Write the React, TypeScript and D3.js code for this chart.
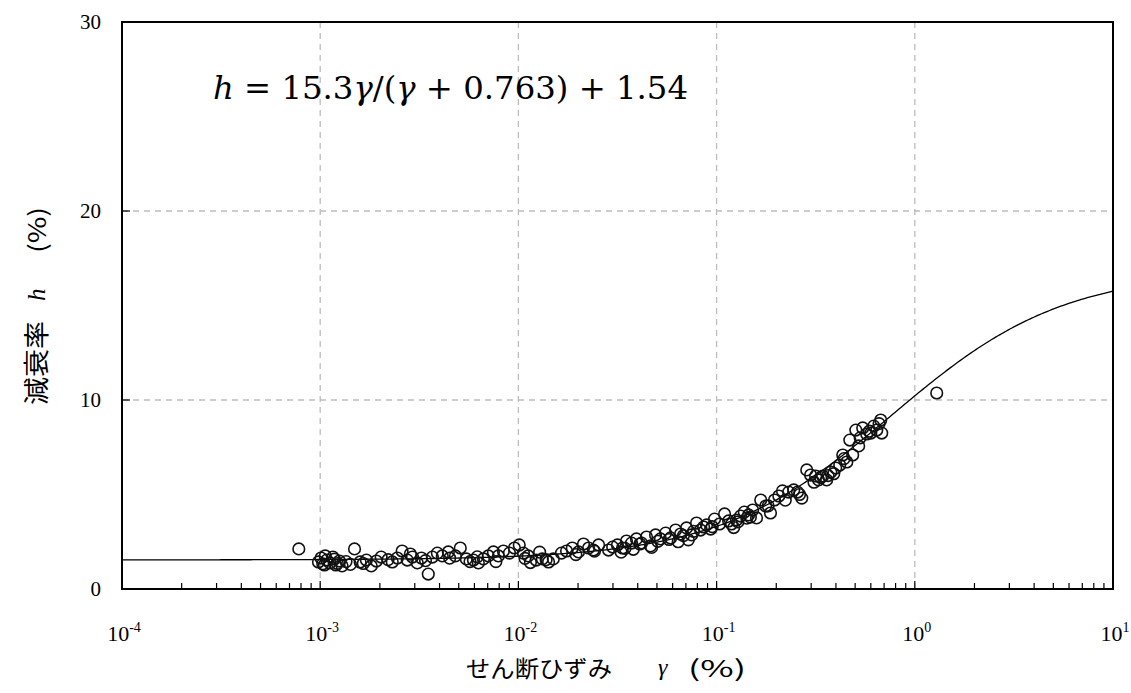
import React from "react";
import * as d3 from "d3";

// shear strain gamma (%) and damping ratio h (%)
const gammaVals: number[] = [
  0.00078, 0.00098, 0.00101, 0.00105, 0.00108, 0.00112, 0.00116, 0.0012, 0.00125, 0.00129,
  0.00149, 0.00159, 0.00171, 0.00181, 0.00192, 0.00203, 0.00231, 0.00245, 0.00259, 0.00275,
  0.00292, 0.00309, 0.00324, 0.00351, 0.00368, 0.0039, 0.00413, 0.00443, 0.00481, 0.00509,
  0.00546, 0.00593, 0.00628, 0.00666, 0.00705, 0.00748, 0.00792, 0.0084, 0.00901, 0.00955,
  0.0101, 0.0106, 0.0112, 0.0123, 0.0132, 0.0142, 0.015, 0.0165, 0.0175, 0.0187,
  0.0201, 0.0213, 0.0226, 0.0239, 0.0254, 0.0285, 0.0299, 0.0316, 0.0335, 0.0351,
  0.0372, 0.0394, 0.0418, 0.0443, 0.0464, 0.0492, 0.0521, 0.0553, 0.0586, 0.0621,
  0.0658, 0.0705, 0.0748, 0.0792, 0.083, 0.089, 0.0933, 0.0977, 0.1035, 0.1097,
  0.119, 0.126, 0.132, 0.138, 0.145, 0.152, 0.159, 0.167, 0.177, 0.187,
  0.196, 0.206, 0.215, 0.231, 0.245, 0.256, 0.269, 0.285, 0.298, 0.316,
  0.327, 0.343, 0.359, 0.377, 0.399, 0.418, 0.433, 0.454, 0.47, 0.486,
  0.504, 0.521, 0.546, 0.572, 0.6, 0.621, 0.643, 0.673, 0.681, 1.29,
  0.00103, 0.00118, 0.00135, 0.00285, 0.0045, 0.0062, 0.0108, 0.0138, 0.0195, 0.0242,
  0.0345, 0.041, 0.0505, 0.0575, 0.068, 0.0765, 0.086, 0.115, 0.128, 0.142,
  0.182, 0.222, 0.262, 0.335, 0.39, 0.44, 0.53, 0.59, 0.66,
  0.00106, 0.00122, 0.00142, 0.00165, 0.0022, 0.0034, 0.0057, 0.0077, 0.0115, 0.0128,
  0.033, 0.038, 0.047, 0.064, 0.072, 0.095, 0.122, 0.148, 0.31, 0.365,
];
const hVals: number[] = [
  2.12, 1.43, 1.64, 1.27, 1.53, 1.38, 1.69, 1.27, 1.48, 1.22,
  2.12, 1.43, 1.53, 1.22, 1.48, 1.69, 1.43, 1.64, 2.01, 1.53,
  1.69, 1.38, 1.64, 0.79, 1.69, 1.9, 1.75, 1.96, 1.75, 2.17,
  1.59, 1.53, 1.38, 1.59, 1.75, 1.96, 1.75, 2.01, 1.9, 2.17,
  2.33, 1.9, 1.75, 1.53, 1.59, 1.43, 1.59, 1.9, 2.01, 2.17,
  1.96, 2.38, 2.17, 2.06, 2.33, 2.06, 2.22, 2.33, 2.17, 2.54,
  2.43, 2.65, 2.43, 2.75, 2.28, 2.86, 2.65, 2.96, 2.7, 3.12,
  2.91, 3.23, 2.86, 3.49, 3.12, 3.39, 3.17, 3.7, 3.44, 3.97,
  3.44, 3.65, 3.86, 4.07, 3.92, 4.18, 3.76, 4.71, 4.39, 4.02,
  4.71, 4.92, 5.19, 5.13, 5.24, 5.13, 4.81, 6.3, 6.03, 5.98,
  5.77, 5.98, 5.77, 6.19, 6.4, 6.56, 7.09, 6.72, 7.88, 7.09,
  8.41, 7.57, 8.52, 8.2, 8.25, 8.62, 8.41, 8.94, 8.25, 10.37,
  1.33, 1.58, 1.45, 1.85, 1.63, 1.7, 1.62, 1.55, 1.82, 2.0,
  2.15, 2.38, 2.52, 2.62, 2.82, 3.05, 3.28, 3.6, 3.55, 3.75,
  4.4, 4.7, 5.0, 5.9, 6.1, 6.9, 8.0, 8.35, 8.75,
  1.75, 1.35, 1.3, 1.35, 1.55, 1.5, 1.45, 1.45, 1.4, 1.95,
  1.95, 2.1, 2.2, 2.5, 2.6, 3.3, 3.25, 3.8, 5.65, 6.0,
];
const xDecades: number[] = [-4, -3, -2, -1, 0, 1];
const yTicks: number[] = [0, 10, 20, 30];
const fitA = 15.3;
const fitB = 0.763;
const fitC = 1.54;

export default function App() {
  const W = 1131, H = 693;
  const L = 122, R = 1113, T = 22, B = 589;
  const x = d3.scaleLog().domain([1e-4, 10]).range([L, R]);
  const y = d3.scaleLinear().domain([0, 30]).range([B, T]);

  const curvePts: [number, number][] = d3.range(0, 501).map((i) => {
    const g = Math.pow(10, -4 + (5 * i) / 500);
    return [g, (fitA * g) / (g + fitB) + fitC];
  });
  const line = d3.line<[number, number]>().x((d) => x(d[0])).y((d) => y(d[1]));

  const minor: number[] = [];
  for (let e = -4; e < 1; e++) for (let k = 2; k <= 9; k++) minor.push(k * Math.pow(10, e));

  const serif = "'Liberation Serif', 'Times New Roman', serif";
  const cjk = "'Noto Sans CJK JP', sans-serif";

  return (
    <svg width={W} height={H} style={{ position: "absolute", left: 0, top: 0, background: "#fff" }}>
      <rect x={0} y={0} width={W} height={H} fill="#fff" />
      {/* grid */}
      {xDecades.slice(1, -1).map((e) => (
        <line key={"gx" + e} x1={x(Math.pow(10, e))} x2={x(Math.pow(10, e))} y1={T} y2={B}
          stroke="#bdbdbd" strokeWidth={1.3} strokeDasharray="6,5" />
      ))}
      {yTicks.slice(1, -1).map((v) => (
        <line key={"gy" + v} x1={L} x2={R} y1={y(v)} y2={y(v)}
          stroke="#bdbdbd" strokeWidth={1.3} strokeDasharray="6,5" />
      ))}
      {/* minor x ticks */}
      {minor.map((m, i) => (
        <line key={"mt" + i} x1={x(m)} x2={x(m)} y1={B} y2={B - 6} stroke="#000" strokeWidth={1.2} />
      ))}
      {xDecades.map((e) => (
        <line key={"xt" + e} x1={x(Math.pow(10, e))} x2={x(Math.pow(10, e))} y1={B} y2={B - 8} stroke="#000" strokeWidth={1.2} />
      ))}
      {yTicks.map((v) => (
        <line key={"yt" + v} x1={L} x2={L + 8} y1={y(v)} y2={y(v)} stroke="#000" strokeWidth={1.2} />
      ))}
      {/* fitted curve */}
      <path d={line(curvePts) || ""} fill="none" stroke="#000" strokeWidth={1.3} />
      {/* data points */}
      {gammaVals.map((g, i) => (
        <circle key={"p" + i} cx={x(g)} cy={y(hVals[i])} r={5.8} fill="none" stroke="#111" strokeWidth={1.6} />
      ))}
      {/* frame */}
      <rect x={L} y={T} width={R - L} height={B - T} fill="none" stroke="#000" strokeWidth={2} />
      {/* y tick labels */}
      {yTicks.map((v) => (
        <text key={"yl" + v} x={101} y={y(v) + 7} textAnchor="end" fontFamily={serif} fontSize={21} fill="#000">
          {v}
        </text>
      ))}
      {/* x tick labels */}
      {xDecades.map((e) => (
        <text key={"xl" + e} x={x(Math.pow(10, e)) + 2} y={641} textAnchor="middle" fontFamily={serif} fontSize={22} fill="#000">
          10<tspan dy={-9} fontSize={14}>{e}</tspan>
        </text>
      ))}
      {/* x axis title */}
      <text x={466} y={677} fontFamily={cjk} fontSize={23} fill="#000" textLength={146} lengthAdjust="spacingAndGlyphs">
        せん断ひずみ
      </text>
      <text x={658} y={675} fontFamily={serif} fontStyle="italic" fontSize={24} fill="#000">γ</text>
      <text x={688} y={677} fontFamily={cjk} fontSize={23} fill="#000" textLength={58} lengthAdjust="spacingAndGlyphs">
        (%)
      </text>
      {/* y axis title */}
      <text transform="translate(46,405) rotate(-90)" fontFamily={cjk} fontSize={26} fill="#000" textLength={84} lengthAdjust="spacingAndGlyphs">
        減衰率
      </text>
      <text transform="translate(45,301) rotate(-90)" fontFamily={serif} fontStyle="italic" fontSize={25} fill="#000">h</text>
      <text transform="translate(46,253) rotate(-90)" fontFamily={cjk} fontSize={24} fill="#000" textLength={46} lengthAdjust="spacingAndGlyphs">
        (%)
      </text>
      {/* equation */}
      <text x={213} y={99} fontFamily={"'DejaVu Serif', serif"} fontSize={31} fill="#000" textLength={475} lengthAdjust="spacingAndGlyphs">
        <tspan fontStyle="italic">h</tspan> = 15.3<tspan fontStyle="italic">γ</tspan>/(<tspan fontStyle="italic">γ</tspan> + 0.763) + 1.54
      </text>
    </svg>
  );
}
